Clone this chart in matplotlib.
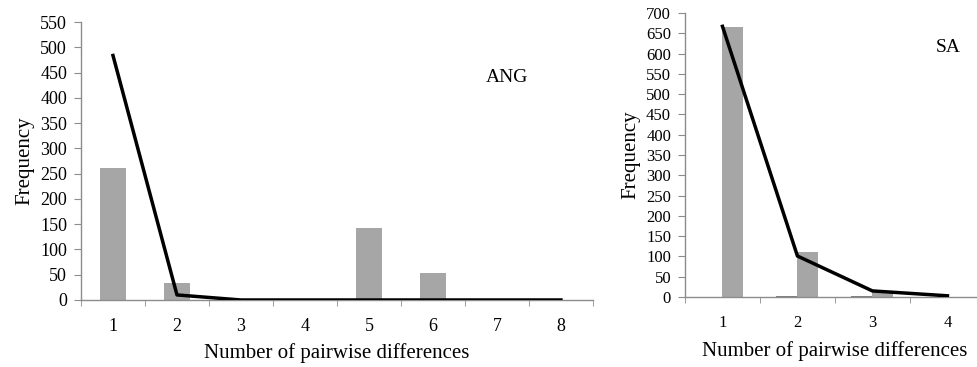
import numpy as np
import matplotlib
matplotlib.use("Agg")
import matplotlib.pyplot as plt
from matplotlib.ticker import MultipleLocator, FixedLocator

plt.rcParams['font.family'] = ['Liberation Serif', 'DejaVu Serif']

# ANG: observed pairwise differences (bars) and expected (line)
ang_x = [1, 2, 3, 4, 5, 6, 7, 8]
ang_obs = [262, 33, 0, 0, 142, 54, 0, 0]
ang_exp = [484, 10, 0, 0, 0, 0, 0, 0]

# SA: two bar series and expected line
sa_x = [1, 2, 3, 4]
sa_obs_a = [0, 2, 2, 0]
sa_obs_b = [666, 111, 12, 0]
sa_exp = [667, 101, 15, 3]

axis_grey = "#8c8c8c"
bar_grey = "#a6a6a6"


def style_axes(ax, ncat, ymax, ystep, tick_fs, ylab_fs, xlab_fs, xlab_pad):
    for side in ["top", "right"]:
        ax.spines[side].set_visible(False)
    for side in ["left", "bottom"]:
        ax.spines[side].set_color(axis_grey)
        ax.spines[side].set_linewidth(1.0)
    ax.set_xlim(0.5, ncat + 0.5)
    ax.set_ylim(0, ymax)
    ax.yaxis.set_major_locator(MultipleLocator(ystep))
    ax.set_xticks(range(1, ncat + 1))
    ax.xaxis.set_minor_locator(FixedLocator(np.arange(0.5, ncat + 1, 1.0)))
    ax.tick_params(axis="x", which="major", length=0, pad=13, labelsize=tick_fs)
    ax.tick_params(axis="x", which="minor", length=4, color=axis_grey, direction="out")
    ax.tick_params(axis="y", length=5, color=axis_grey, direction="out", labelsize=tick_fs, pad=5)
    ax.set_ylabel("Frequency", fontsize=ylab_fs, labelpad=4)
    ax.set_xlabel("Number of pairwise differences", fontsize=xlab_fs, labelpad=xlab_pad)


fig = plt.figure(figsize=(9.77, 3.67), dpi=100)

ax1 = fig.add_axes([0.0829, 0.1826, 0.524, 0.757])
ax1.bar(ang_x, ang_obs, width=0.4, color=bar_grey, zorder=2)
ax1.plot(ang_x, ang_exp, color="black", linewidth=2.5, zorder=3)
style_axes(ax1, 8, 550, 50, 13, 15, 15, 6)
ax1.text(0.832, 0.80, "ANG", transform=ax1.transAxes, fontsize=14, ha="center", va="center")

ax2 = fig.add_axes([0.7011, 0.1907, 0.307, 0.774])
sa_pos = np.array(sa_x)
ax2.bar(sa_pos - 0.14, sa_obs_a, width=0.28, color="#7f7f7f", zorder=2)
ax2.bar(sa_pos + 0.14, sa_obs_b, width=0.28, color=bar_grey, zorder=2)
ax2.plot(sa_x, sa_exp, color="black", linewidth=2.5, zorder=3)
style_axes(ax2, 4, 700, 50, 12, 15, 15, 7)
ax2.text(0.877, 0.88, "SA", transform=ax2.transAxes, fontsize=14, ha="center", va="center")

fig.savefig("out.png", dpi=100)
